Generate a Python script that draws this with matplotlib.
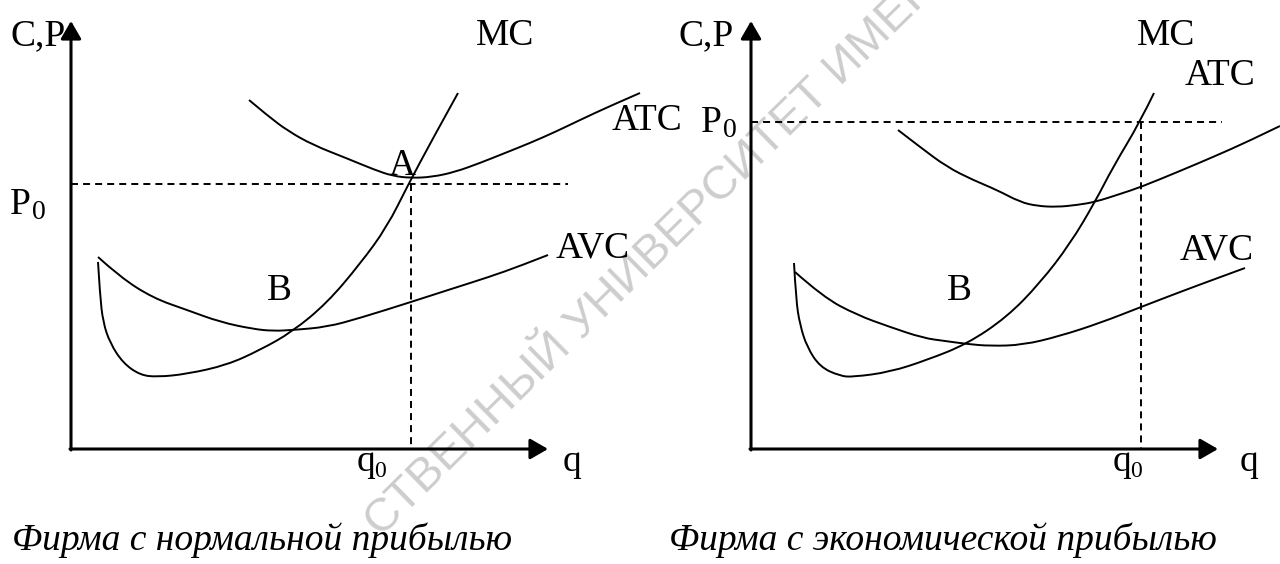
import matplotlib
matplotlib.use('Agg')
import matplotlib.pyplot as plt
from matplotlib.path import Path
from matplotlib.patches import PathPatch

# points, in pixels (x right, y down)
mc_left = [(98, 262), (100, 295), (103, 322), (110, 343), (123, 363), (140, 375), (157, 377),
           (187, 374), (227, 365), (260, 350), (292, 332), (327, 303), (360, 264), (387, 227),
           (408, 185), (432, 140), (458, 93)]
avc_left = [(98, 257), (120, 277), (153, 298), (187, 310), (220, 322), (253, 329), (273, 331),
            (293, 330), (327, 327), (360, 318), (411, 302), (448, 290), (489, 277), (520, 266), (548, 255)]
atc_left = [(249, 100), (268, 116), (288, 131), (313, 145), (346, 158), (375, 170), (393, 176),
            (411, 178), (432, 177), (455, 172), (480, 163), (505, 153), (530, 143), (555, 132),
            (580, 120), (610, 106), (640, 93)]

mc_right = [(794, 263), (796, 300), (800, 325), (807, 347), (820, 367), (840, 376), (853, 377),
            (890, 372), (927, 360), (967, 344), (1007, 317), (1040, 283), (1070, 244), (1095, 202),
            (1113, 167), (1140, 122), (1154, 93)]
avc_right = [(795, 272), (823, 297), (857, 315), (890, 327), (923, 338), (945, 341), (967, 344),
             (990, 346), (1023, 345), (1060, 336), (1100, 323), (1141, 307), (1180, 292), (1215, 279), (1245, 268)]
atc_right = [(898, 130), (920, 147), (947, 167), (973, 180), (997, 190), (1020, 202), (1037, 206),
             (1057, 207), (1077, 205), (1095, 202), (1120, 194), (1141, 187), (1180, 171), (1213, 157),
             (1247, 142), (1280, 126)]

# origin, arrow tips, price level P0 and output q0 of each panel
left_axes = dict(x0=71, y0=449, xtip=548, ytip=21, p0=184, q0=411, pend=568)
right_axes = dict(x0=751, y0=449, xtip=1218, ytip=21, p0=122, q0=1141, pend=1222)

# text, left x, baseline y
labels = [
    ('C,P', 10, 45), ('MC', 476, 45), ('ATC', 612, 130), ('AVC', 556, 258),
    ('A', 389, 175), ('B', 267, 300), ('q', 563, 471),
    ('C,P', 679, 45), ('MC', 1137, 45), ('ATC', 1185, 85), ('AVC', 1180, 259),
    ('B', 947, 300), ('q', 1240, 471),
]
# main letter, left x, baseline y (subscript 0 follows)
subs = [('P', 10, 214), ('q', 357, 471), ('P', 701, 132), ('q', 1113, 471)]
captions = [('Фирма с нормальной прибылью', 12, 550), ('Фирма с экономической прибылью', 669, 550)]
watermark = 'СТВЕННЫЙ УНИВЕРСИТЕТ ИМЕНИ'

font = 'Liberation Serif'
fs = 27

fig = plt.figure(figsize=(12.8, 5.64), dpi=100)
ax = fig.add_axes([0, 0, 1, 1])
ax.set_xlim(0, 1280)
ax.set_ylim(564, 0)
ax.axis('off')

ax.text(664, 243, watermark, rotation=44.5, rotation_mode='anchor', color='#cdcdcd',
        fontsize=34, family='Liberation Sans', ha='center', va='center', zorder=0)


def smooth_path(pts):
    # read points used as quadratic control points, curve runs through the midpoints
    verts = [pts[0]]
    codes = [Path.MOVETO]
    for i in range(1, len(pts) - 1):
        if i < len(pts) - 2:
            end = ((pts[i][0] + pts[i + 1][0]) / 2, (pts[i][1] + pts[i + 1][1]) / 2)
        else:
            end = pts[-1]
        verts += [pts[i], end]
        codes += [Path.CURVE3, Path.CURVE3]
    return Path(verts, codes)


for curve in [mc_left, avc_left, atc_left, mc_right, avc_right, atc_right]:
    ax.add_patch(PathPatch(smooth_path(curve), facecolor='none', edgecolor='black', lw=1.4))

dash = (0, (3.6, 2.6))
head = '-|>,head_length=0.45,head_width=0.26'
for a in [left_axes, right_axes]:
    ax.annotate('', xy=(a['xtip'], a['y0']), xytext=(a['x0'] - 1, a['y0']),
                arrowprops=dict(arrowstyle=head, lw=2.2, color='black', mutation_scale=24,
                                shrinkA=0, shrinkB=0))
    ax.annotate('', xy=(a['x0'], a['ytip']), xytext=(a['x0'], a['y0'] + 1),
                arrowprops=dict(arrowstyle=head, lw=2.2, color='black', mutation_scale=24,
                                shrinkA=0, shrinkB=0))
    ax.plot([a['x0'], a['pend']], [a['p0'], a['p0']], color='black', lw=1.4, ls=dash)
    ax.plot([a['q0'], a['q0']], [a['p0'], a['y0']], color='black', lw=1.4, ls=dash)

for s, x, y in labels:
    ax.text(x, y, s, fontsize=fs, family=font, ha='left', va='baseline')

for s, x, y in subs:
    ax.text(x, y, s, fontsize=fs, family=font, ha='left', va='baseline')
    if s == 'P':
        ax.text(x + 22, y + 5, '0', fontsize=20, family=font, ha='left', va='baseline')
    else:
        ax.text(x + 17, y + 6, '0', fontsize=17, family=font, ha='left', va='baseline')

for s, x, y in captions:
    ax.text(x, y, s, fontsize=fs, family=font, style='italic', ha='left', va='baseline')

fig.savefig('out.png', dpi=100, facecolor='white')
